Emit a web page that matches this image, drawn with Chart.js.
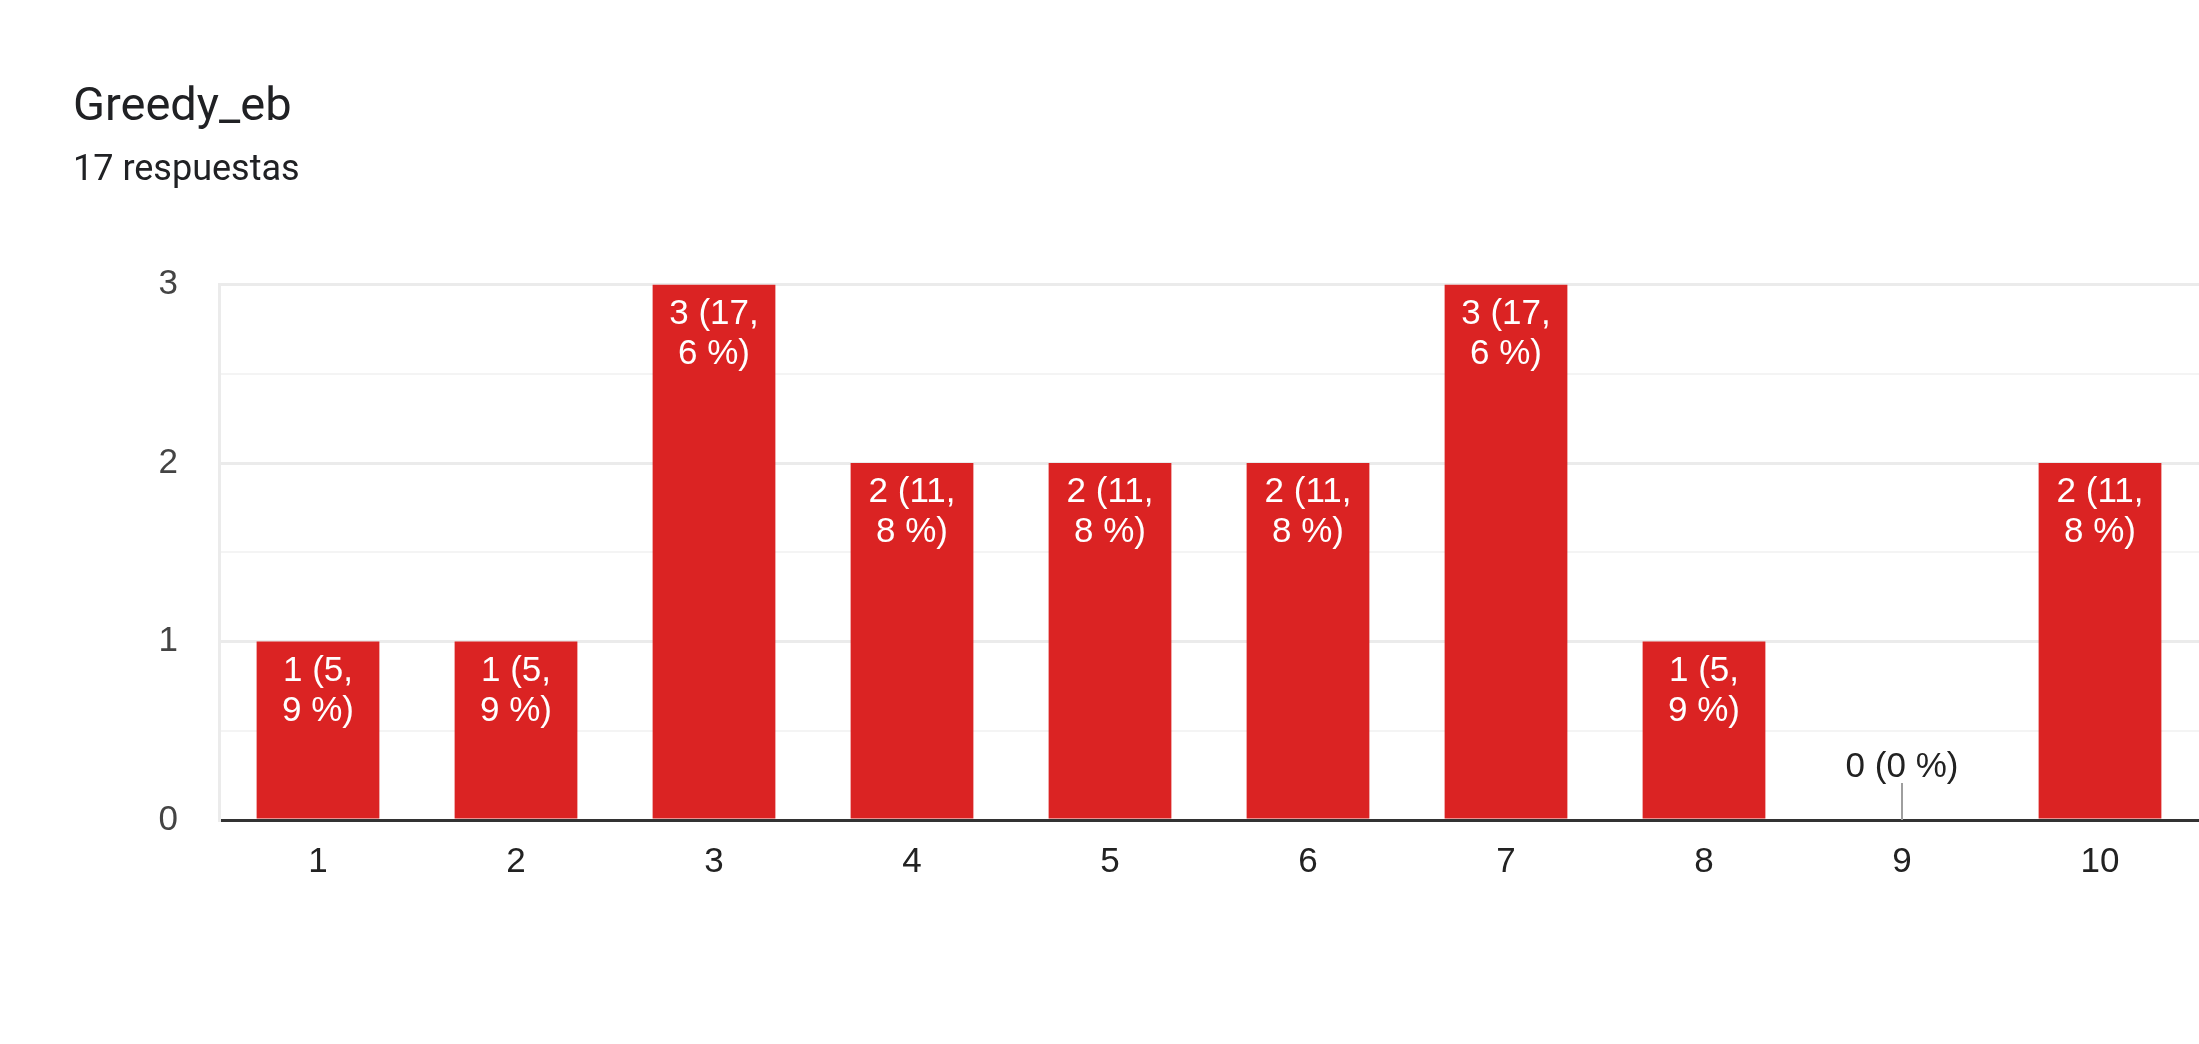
<!DOCTYPE html>
<html>
<head>
<meta charset="utf-8">
<style>
  html, body { margin: 0; padding: 0; background: #fff; }
  canvas { display: block; }
</style>
</head>
<body>
<canvas id="myChart" width="2199" height="1044"></canvas>
<script src="https://cdn.jsdelivr.net/npm/chart.js@4.4.0/dist/chart.umd.min.js"></script>
<script>
const chartTitle = 'Greedy_eb';
const responses = 17;
const categories = ['1', '2', '3', '4', '5', '6', '7', '8', '9', '10'];
const counts = [1, 1, 3, 2, 2, 2, 3, 1, 0, 2];
const yTicks = [0, 1, 2, 3];

// "1 (5,9 %)" split into two lines like the forms summary does
function pctText(v) {
    const p = Math.round(v / responses * 1000) / 10;
    return p.toString().replace('.', ',');
}

const barLabels = {
    id: 'barLabels',
    afterDatasetsDraw(chart) {
        const ctx = chart.ctx;
        const meta = chart.getDatasetMeta(0);
        const base = chart.scales.y.getPixelForValue(0);
        ctx.save();
        ctx.font = '35px "Liberation Sans", Arial, sans-serif';
        ctx.textAlign = 'center';
        ctx.textBaseline = 'alphabetic';
        meta.data.forEach((bar, i) => {
            const v = counts[i];
            const p = pctText(v);
            if (v > 0) {
                const parts = p.split(',');
                ctx.fillStyle = '#ffffff';
                if (parts.length > 1) {
                    ctx.fillText(v + ' (' + parts[0] + ',', bar.x, bar.y + 39);
                    ctx.fillText(parts[1] + ' %)', bar.x, bar.y + 79);
                } else {
                    ctx.fillText(v + ' (' + p + ' %)', bar.x, bar.y + 39);
                }
            } else {
                ctx.strokeStyle = '#9e9e9e';
                ctx.lineWidth = 2;
                ctx.beginPath();
                ctx.moveTo(bar.x, base - 37);
                ctx.lineTo(bar.x, base);
                ctx.stroke();
                ctx.fillStyle = '#222222';
                ctx.fillText(v + ' (' + p + ' %)', bar.x, base - 43);
            }
        });
        ctx.restore();
    }
};

const ctx = document.getElementById('myChart').getContext('2d');
const myChart = new Chart(ctx, {
    type: 'bar',
    data: {
        labels: categories,
        datasets: [{
            data: counts,
            backgroundColor: '#db2323',
            borderWidth: 0,
            barPercentage: 0.62,
            categoryPercentage: 1
        }]
    },
    options: {
        responsive: false,
        devicePixelRatio: 1,
        animation: false,
        layout: { padding: { left: 73, right: 0, top: 0, bottom: 0 } },
        plugins: {
            legend: { display: false },
            tooltip: { enabled: false },
            title: {
                display: true,
                text: chartTitle,
                align: 'start',
                color: '#202124',
                font: { family: 'Roboto', size: 47, weight: 'normal', lineHeight: 1.2 },
                padding: { top: 80, bottom: 13 }
            },
            subtitle: {
                display: true,
                text: responses + ' respuestas',
                align: 'start',
                color: '#202124',
                font: { family: 'Roboto', size: 36, weight: 'normal', lineHeight: 1.2 },
                padding: { top: 0, bottom: 92 }
            }
        },
        scales: {
            x: {
                grid: { display: false, drawTicks: false },
                border: { display: true, color: '#333333', width: 3 },
                ticks: {
                    color: '#222222',
                    padding: 21,
                    font: { family: '"Liberation Sans", Arial, sans-serif', size: 35 }
                },
                afterFit(scale) { scale.height = 224; }
            },
            y: {
                min: 0,
                max: yTicks[yTicks.length - 1],
                grid: {
                    drawTicks: false,
                    color: c => c.tick.value === 0 ? 'rgba(0,0,0,0)' :
                        (Number.isInteger(c.tick.value) ? '#ebebeb' : '#f4f4f4'),
                    lineWidth: c => Number.isInteger(c.tick.value) ? 3 : 2
                },
                border: { display: true, color: '#ebebeb', width: 3 },
                ticks: {
                    stepSize: 0.5,
                    color: '#444444',
                    padding: 41,
                    font: { family: '"Liberation Sans", Arial, sans-serif', size: 35 },
                    callback: v => yTicks.includes(v) ? v : ''
                },
                afterFit(scale) { scale.width = 146; }
            }
        }
    },
    plugins: [barLabels]
});
</script>
</body>
</html>
